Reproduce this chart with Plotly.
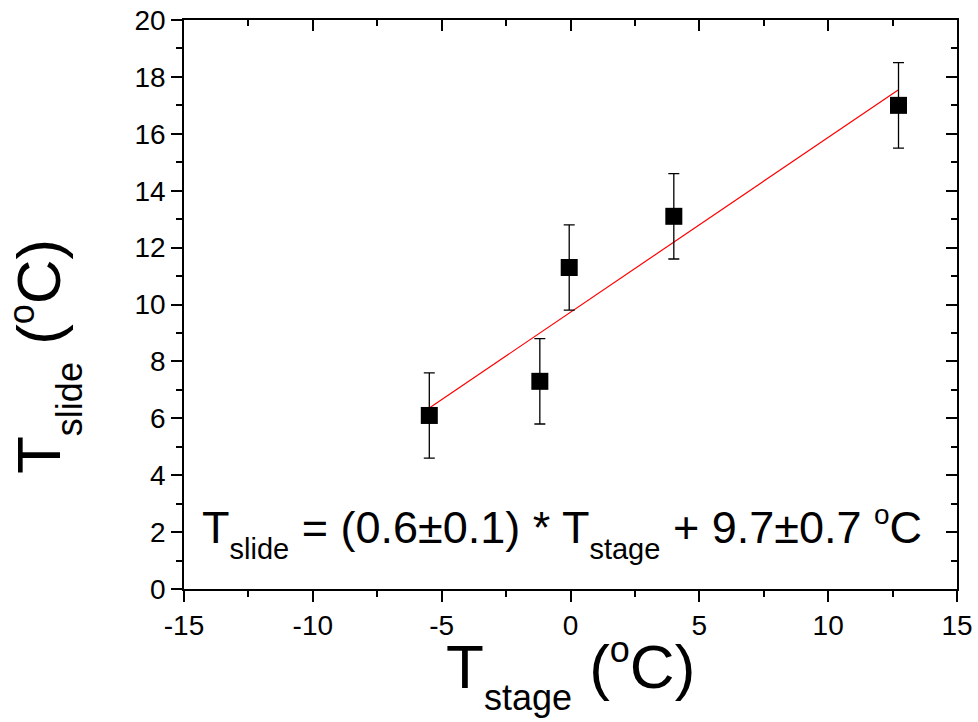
import numpy as np
import plotly.graph_objects as go

# Data
t_stage = [-5.48, -1.19, -0.05, 4.01, 12.73]
t_slide = [6.1, 7.3, 11.3, 13.1, 17.0]
t_err = [1.5, 1.5, 1.5, 1.5, 1.5]

x_ticks = [-15, -10, -5, 0, 5, 10, 15]
x_labels = ["-15", "-10", "-5", "0", "5", "10", "15"]
y_ticks = [0, 2, 4, 6, 8, 10, 12, 14, 16, 18, 20]
y_labels = [str(v) for v in y_ticks]

fit_slope, fit_intercept = np.polyfit(t_stage, t_slide, 1)
fit_x = [min(t_stage), max(t_stage)]
fit_y = [fit_slope * v + fit_intercept for v in fit_x]

W, H = 978, 722
ML, MR, MT, MB = 184, 21, 20, 133
PW, PH = W - ML - MR, H - MT - MB


def px_x(p):
    return (p - ML) / PW


def px_y(p):
    return (H - MB - p) / PH


FONT = "Liberation Sans, Arial, sans-serif"

fig = go.Figure()
fig.add_trace(go.Scatter(x=fit_x, y=fit_y, mode="lines",
                         line=dict(color="#ff0000", width=1.2),
                         showlegend=False, hoverinfo="skip"))
fig.add_trace(go.Scatter(x=t_stage, y=t_slide, mode="markers",
                         marker=dict(symbol="square", size=17, color="black",
                                     line=dict(width=0)),
                         error_y=dict(type="data", array=t_err, visible=True,
                                      color="black", thickness=1.3, width=5.5),
                         showlegend=False))
fig.add_trace(go.Scatter(x=[None], y=[None], xaxis="x2", yaxis="y2",
                         showlegend=False, hoverinfo="skip"))

common = dict(showgrid=False, zeroline=False, showline=True, linecolor="black",
              linewidth=1.5, tickcolor="black", tickwidth=1.5, ticklen=11,
              automargin=False)

fig.update_layout(
    template="none",
    width=W, height=H,
    margin=dict(l=ML, r=MR, t=MT, b=MB, autoexpand=False),
    paper_bgcolor="white", plot_bgcolor="white",
    font=dict(family=FONT, color="black"),
    xaxis=dict(range=[-15, 15], tickvals=x_ticks, ticktext=x_labels,
               ticks="outside",
               tickfont=dict(size=28, family=FONT, color="black"),
               minor=dict(dtick=2.5, ticks="outside", ticklen=6, tickwidth=1.5,
                          tickcolor="black"),
               **common),
    yaxis=dict(range=[0, 20], tickvals=y_ticks, ticktext=y_labels,
               ticks="outside",
               tickfont=dict(size=28, family=FONT, color="black"),
               minor=dict(dtick=1, ticks="outside", ticklen=6, tickwidth=1.5,
                          tickcolor="black"),
               **common),
    xaxis2=dict(range=[-15, 15], overlaying="x", side="top", anchor="y",
                tickvals=x_ticks, ticks="inside", showticklabels=False,
                minor=dict(dtick=2.5, ticks="inside", ticklen=6, tickwidth=1.5,
                           tickcolor="black"),
                **common),
    yaxis2=dict(range=[0, 20], overlaying="y", side="right", anchor="x",
                tickvals=y_ticks, ticks="inside", showticklabels=False,
                minor=dict(dtick=1, ticks="inside", ticklen=6, tickwidth=1.5,
                           tickcolor="black"),
                **common),
)

sub_big = '<sub><sub><span style="font-size:36px">{}</span></sub></sub>'
sup_big = '<sup><span style="font-size:36px">o</span></sup>'
sub_sm = '<sub><sub><span style="font-size:29px">{}</span></sub></sub>'
sup_sm = '<sup><span style="font-size:28px">o</span></sup>'

fig.add_annotation(xref="paper", yref="paper", x=px_x(570), y=px_y(673),
                   xanchor="center", yanchor="middle", showarrow=False,
                   text="T" + sub_big.format("stage") + " (" + sup_big + "C)",
                   font=dict(size=62, family=FONT, color="black"))
fig.add_annotation(xref="paper", yref="paper", x=px_x(45), y=px_y(357),
                   xanchor="center", yanchor="middle", showarrow=False,
                   textangle=-90,
                   text="T" + sub_big.format("slide") + " (" + sup_big + "C)",
                   font=dict(size=62, family=FONT, color="black"))
fig.add_annotation(xref="paper", yref="paper", x=px_x(562), y=px_y(532),
                   xanchor="center", yanchor="middle", showarrow=False,
                   text="T" + sub_sm.format("slide") + " = (0.6±0.1) * T"
                        + sub_sm.format("stage") + " + 9.7±0.7 " + sup_sm + "C",
                   font=dict(size=45, family=FONT, color="black"))

fig.write_html("out.html",
               config={"displayModeBar": False},
               post_script="document.body.style.margin='0px';"
                           "document.body.style.padding='0px';")
